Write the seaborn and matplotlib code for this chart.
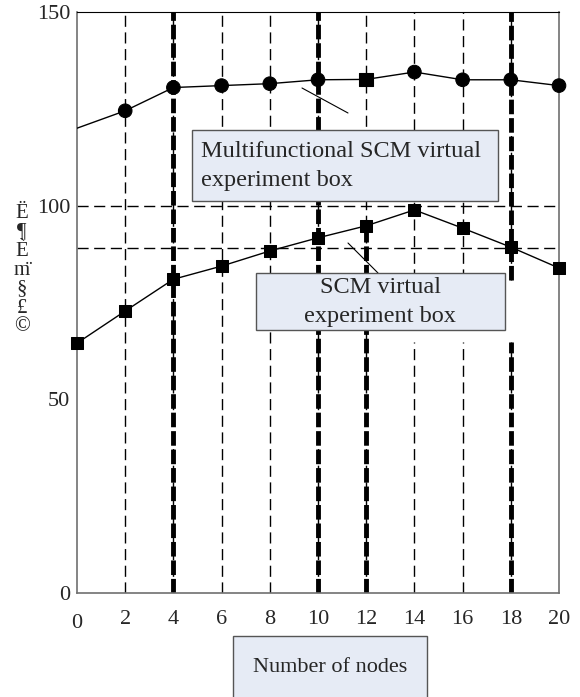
import matplotlib
matplotlib.use("Agg")
import matplotlib.pyplot as plt
from matplotlib.patches import Rectangle
import pandas as pd
import seaborn as sns

# values
nodes = [0, 2, 4, 6, 8, 10, 12, 14, 16, 18, 20]
multi_scm = [120, 124.5, 130.5, 131, 131.5, 132.5, 132.6, 134.5, 132.5, 132.5, 131]
multi_markers = [None, 'o', 'o', 'o', 'o', 'o', 's', 'o', 'o', 'o', 'o']
scm = [64.5, 72.8, 81, 84.4, 88.3, 91.7, 94.8, 98.9, 94.2, 89.3, 83.9]
ref_levels = [100, 89]
x_ticks = [0, 2, 4, 6, 8, 10, 12, 14, 16, 18, 20]
y_ticks = [0, 50, 100, 150]
thin_grid_x = [2, 4, 6, 8, 10, 12, 14, 16, 18]
thick_grid_x = [4, 10, 12, 18]
ylabel_chars = ['Ë', '¶', 'È', 'm̈', '§', '£', '©']

multi_label = 'Multifunctional SCM virtual\nexperiment box'
scm_label = 'SCM virtual\nexperiment box'
xlabel = 'Number of nodes'

df_multi = pd.DataFrame({'nodes': nodes, 'value': multi_scm, 'marker': multi_markers})
df_scm = pd.DataFrame({'nodes': nodes, 'value': scm})

sns.set_style("white")
plt.rcParams['font.family'] = ['Liberation Serif', 'DejaVu Serif']

W, H = 580, 697
fig = plt.figure(figsize=(W / 100, H / 100), dpi=100)


def fx(px):
    return px / W


def fy(py):
    return 1 - py / H


ax = fig.add_axes([fx(77), fy(593), (559 - 77) / W, (593 - 12) / H])

# grid lines
thin_ls = (0, (8, 4))
thick_ls = (0, (3, 0.8))
for x in thin_grid_x:
    if x >= 14:
        ax.vlines(x, 0, 64.8, colors='black', linestyles=thin_ls, lw=1, zorder=1)
        ax.vlines(x, 80.8, 150, colors='black', linestyles=thin_ls, lw=1, zorder=1)
    else:
        ax.vlines(x, 0, 150, colors='black', linestyles=thin_ls, lw=1, zorder=1)
for x in thick_grid_x:
    if x == 12:
        ax.vlines(x, 0, 95, colors='black', linestyles=thick_ls, lw=3.5, zorder=1)
    elif x == 18:
        ax.vlines(x, 0, 64.8, colors='black', linestyles=thick_ls, lw=3.5, zorder=1)
        ax.vlines(x, 80.8, 150, colors='black', linestyles=thick_ls, lw=3.5, zorder=1)
    else:
        ax.vlines(x, 0, 150, colors='black', linestyles=thick_ls, lw=3.5, zorder=1)
for y in ref_levels:
    ax.axhline(y, color='black', linestyle=thin_ls, lw=1, zorder=1)

# series
sns.lineplot(data=df_multi, x='nodes', y='value', ax=ax, color='black', lw=1, zorder=3)
sns.lineplot(data=df_scm, x='nodes', y='value', ax=ax, color='black', lw=1, zorder=3)
pts = df_multi.dropna(subset=['marker'])
sns.scatterplot(data=pts, x='nodes', y='value', style='marker', markers={'o': 'o', 's': 's'},
                color='black', s=95, edgecolor='black', ax=ax, legend=False, zorder=4, clip_on=False)
sns.scatterplot(data=df_scm, x='nodes', y='value', marker='s', color='black', s=85,
                edgecolor='black', ax=ax, legend=False, zorder=4, clip_on=False)

ax.set_xlim(0, 20)
ax.set_ylim(0, 150)
ax.set_xticks(x_ticks)
ax.set_yticks(y_ticks)
ax.set_xticklabels([str(t) for t in x_ticks])
ax.tick_params(axis='both', length=0, labelsize=16)
ax.tick_params(axis='x', pad=12)
ax.tick_params(axis='y', pad=5)
ax.get_xticklabels()[0].set_y(-0.008)
ax.set_xlabel('')
ax.set_ylabel('')
for s in ax.spines.values():
    s.set_color('#707070')
    s.set_linewidth(1.2)
ax.spines['top'].set_color('black')
ax.spines['top'].set_linewidth(0.8)

# annotation leader lines
fig.add_artist(plt.Line2D([fx(302), fx(348)], [fy(88), fy(113)], color='black', lw=0.8))
fig.add_artist(plt.Line2D([fx(348), fx(378)], [fy(243), fy(273)], color='black', lw=0.8))

# label boxes
box_face = '#E6EBF5'
box_edge = '#555555'
fig.add_artist(Rectangle((fx(192), fy(201)), (498 - 192) / W, (201 - 130) / H,
                         transform=fig.transFigure, facecolor=box_face, edgecolor=box_edge,
                         lw=1, zorder=5))
fig.text(fx(201), fy(166), multi_label, ha='left', va='center', fontsize=17.5,
         linespacing=1.55, zorder=6)
fig.add_artist(Rectangle((fx(256), fy(330)), (505 - 256) / W, (330 - 273) / H,
                         transform=fig.transFigure, facecolor=box_face, edgecolor=box_edge,
                         lw=1, zorder=5))
fig.text(fx(380), fy(302), scm_label, ha='center', va='center', fontsize=17.5,
         linespacing=1.55, zorder=6)
fig.add_artist(Rectangle((fx(233), fy(705)), (427 - 233) / W, (705 - 636) / H,
                         transform=fig.transFigure, facecolor=box_face, edgecolor=box_edge,
                         lw=1, zorder=5))
fig.text(fx(330), fy(668), xlabel, ha='center', va='center', fontsize=16, zorder=6)

# garbled vertical y label
fig.text(fx(22), fy(270), '\n'.join(ylabel_chars), ha='center', va='center', fontsize=15,
         linespacing=1.0)

fig.savefig('out.png', dpi=100)
